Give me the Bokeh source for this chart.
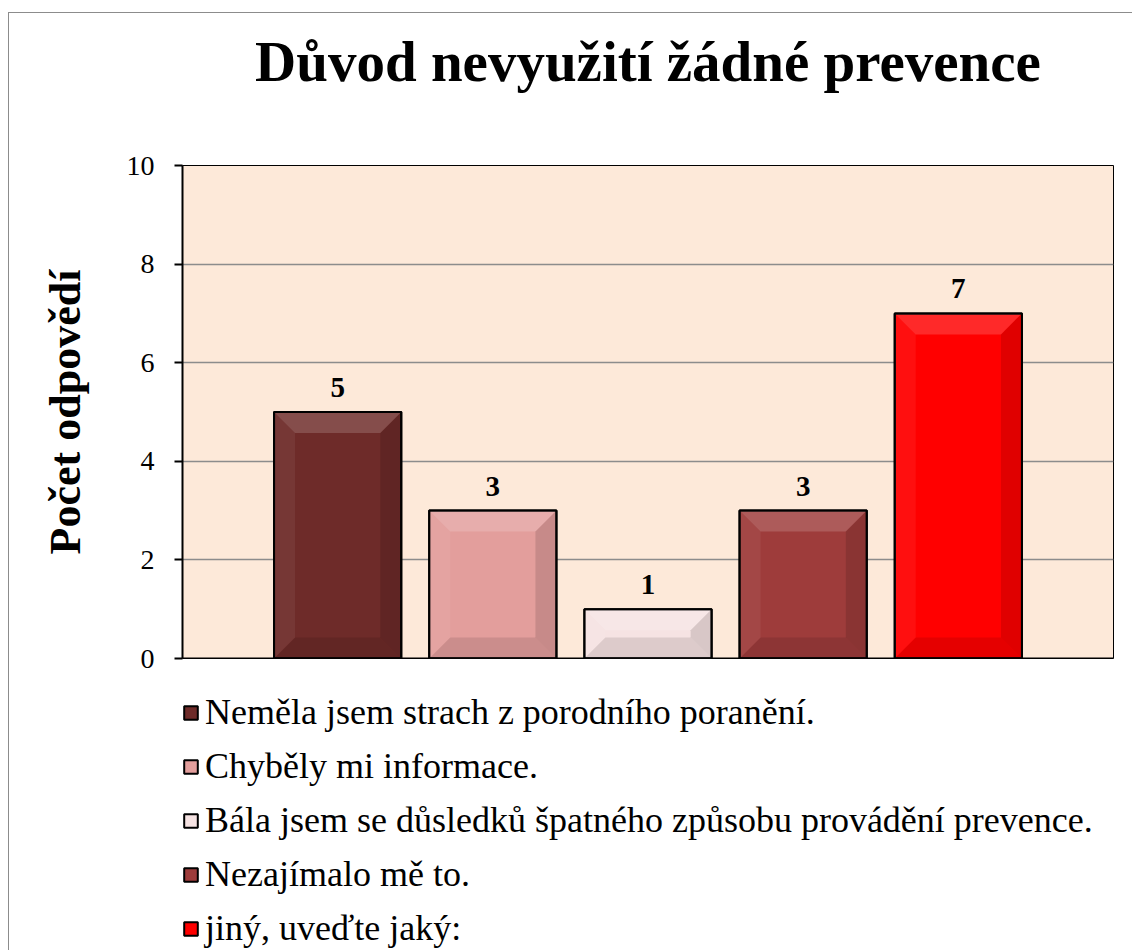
from bokeh.plotting import figure
from bokeh.models import Range1d, Legend, LegendItem, Label, Span, FixedTicker
from bokeh.layouts import column
from bokeh.embed import file_html
from bokeh.resources import INLINE

# ---- data ----
categories = [
    "Neměla jsem strach z porodního poranění.",
    "Chyběly mi informace.",
    "Bála jsem se důsledků špatného způsobu provádění prevence.",
    "Nezajímalo mě to.",
    "jiný, uveďte jaký:",
]
values = [5, 3, 1, 3, 7]
colors = ["#6E2B29", "#E39E9C", "#F6E3E3", "#9E3C3B", "#FF0000"]
y_ticks = [0, 2, 4, 6, 8, 10]
title_text = "Důvod nevyužití žádné prevence"
y_label = "Počet odpovědí"

SERIF = "Liberation Serif"
FW, FH = 931, 493
X0, X1 = -3.0, 3.0
Y0, Y1 = 0, 10
TOTAL_W = 1123
BL, BR = 173, 19
TOP_B = 16
TOP_H = 152 - TOP_B
BOT_B = 20


def blank(height):
    f = figure(width=TOTAL_W, height=height, frame_width=FW, frame_height=height,
               x_range=Range1d(-1, 1), y_range=Range1d(0, height),
               output_backend="svg", toolbar_location=None,
               min_border_left=BL, min_border_right=BR, min_border_top=0, min_border_bottom=0)
    f.axis.visible = False
    f.grid.visible = False
    f.outline_line_color = None
    f.background_fill_color = "white"
    f.border_fill_color = "white"
    return f


# ---- title strip ----
p0 = blank(TOP_H)
p0.add_layout(Label(x=0, y=TOP_H - 48, text=title_text, text_font=SERIF, text_font_style="bold",
                    text_font_size="57px", text_align="center", text_baseline="alphabetic",
                    text_color="black"))

# ---- chart ----
p = figure(width=TOTAL_W, frame_width=FW, frame_height=FH,
           x_range=Range1d(X0, X1), y_range=Range1d(Y0, Y1),
           output_backend="svg", toolbar_location=None,
           min_border_left=BL, min_border_right=BR, min_border_top=TOP_B,
           min_border_bottom=BOT_B)
p.background_fill_color = "#FDE9D9"
p.border_fill_color = "white"
p.outline_line_color = "black"
p.outline_line_width = 1

p.xaxis.visible = False
p.xgrid.visible = False
p.ygrid.grid_line_color = "#8C8C8C"
p.ygrid.grid_line_width = 1.5
p.ygrid.ticker = FixedTicker(ticks=y_ticks)

ya = p.yaxis[0]
ya.ticker = FixedTicker(ticks=y_ticks)
ya.axis_line_color = "black"
ya.axis_line_width = 2
ya.major_tick_line_color = "black"
ya.major_tick_line_width = 2
ya.major_tick_out = 8
ya.major_tick_in = 0
ya.minor_tick_line_color = None
ya.major_label_text_font = SERIF
ya.major_label_text_font_size = "28px"
ya.major_label_text_color = "black"
ya.major_label_standoff = 20
ya.axis_label = y_label
ya.axis_label_text_font = SERIF
ya.axis_label_text_font_style = "bold"
ya.axis_label_text_font_size = "44px"
ya.axis_label_text_color = "black"
ya.axis_label_standoff = 34

p.add_layout(Span(location=0, dimension="width", line_color="black", line_width=2))

bw = 0.82
px_x = (X1 - X0) / FW
px_y = (Y1 - Y0) / FH
for i, (cat, v, c) in enumerate(zip(categories, values, colors)):
    xc = i - 2
    l, r = xc - bw / 2, xc + bw / 2
    bpx = min(21, v / px_y / 2)
    bx, by = bpx * px_x, bpx * px_y
    p.vbar(x=[xc], top=[v], bottom=0, width=bw, fill_color=c,
           line_color="black", line_width=2)
    p.patch([l, r, r - bx, l + bx], [v, v, v - by, v - by], fill_color="white", fill_alpha=0.16, line_color=None)
    p.patch([l, l + bx, l + bx, l], [0, by, v - by, v], fill_color="white", fill_alpha=0.06, line_color=None)
    p.patch([r, r - bx, r - bx, r], [0, by, v - by, v], fill_color="black", fill_alpha=0.12, line_color=None)
    p.patch([l, r, r - bx, l + bx], [0, 0, by, by], fill_color="black", fill_alpha=0.10, line_color=None)
    p.vbar(x=[xc], top=[v], bottom=0, width=bw, fill_color=None,
           line_color="black", line_width=2)
    p.add_layout(Label(x=xc, y=v, text=str(v), text_font=SERIF, text_font_style="bold",
                       text_font_size="29px", text_align="center", text_baseline="bottom",
                       y_offset=15, text_color="black"))

# ---- legend strip ----
LH = 950 - 13 - TOP_H - (TOP_B + FH + BOT_B)
p2 = blank(LH)
items = []
for i, (cat, v, c) in enumerate(zip(categories, values, colors)):
    rr = p2.vbar(x=[i - 2], top=[v], bottom=0, width=bw, fill_color=c,
                 line_color="black", line_width=2, visible=False)
    items.append(LegendItem(label=cat, renderers=[rr]))

legend = Legend(items=items, location=(0, 1), orientation="vertical",
                label_text_font=SERIF, label_text_font_size="36px", label_text_color="black",
                glyph_width=17, glyph_height=17, label_standoff=6, spacing=12,
                padding=0, margin=0, border_line_color=None, background_fill_alpha=0,
                label_height=40, inactive_fill_alpha=0, click_policy="none")
p2.add_layout(legend, "center")

layout = column(p0, p, p2, spacing=0)
layout.styles = {"border-left": "1px solid #8c8c8c", "border-top": "1px solid #8c8c8c",
                 "margin-left": "8px", "margin-top": "12px"}

open("out.html", "w").write(file_html(layout, INLINE))
